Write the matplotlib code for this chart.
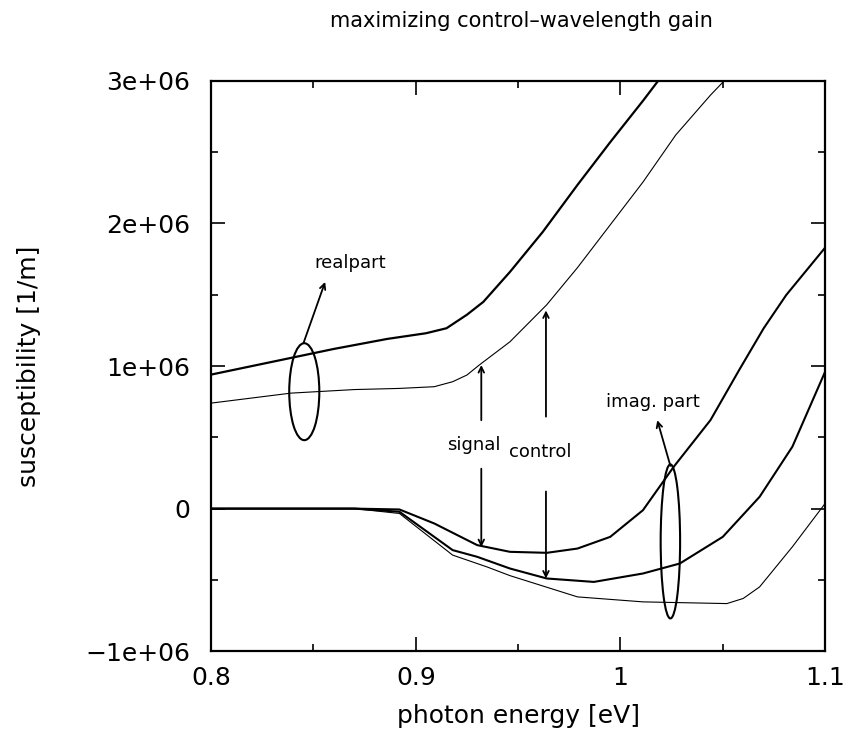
import matplotlib
matplotlib.use("Agg")
import matplotlib.pyplot as plt
from matplotlib.patches import Ellipse
from matplotlib.ticker import MultipleLocator

# photon energy [eV] / susceptibility in units of 1e6 1/m
real_thick_x = [0.800, 0.830, 0.860, 0.886, 0.905, 0.915, 0.925, 0.933, 0.946,
                0.962, 0.979, 0.995, 1.011, 1.020]
real_thick_y = [0.94, 1.03, 1.12, 1.19, 1.23, 1.265, 1.36, 1.45, 1.66,
                1.94, 2.27, 2.57, 2.86, 3.03]

real_thin_x = [0.800, 0.839, 0.870, 0.892, 0.909, 0.918, 0.925, 0.931, 0.946,
               0.964, 0.979, 0.995, 1.011, 1.027, 1.044, 1.052]
real_thin_y = [0.74, 0.81, 0.835, 0.843, 0.855, 0.89, 0.937, 1.007, 1.17,
               1.43, 1.69, 1.99, 2.29, 2.62, 2.90, 3.02]

imag_top_x = [0.800, 0.870, 0.892, 0.909, 0.930, 0.946, 0.964, 0.979, 0.995,
              1.011, 1.026, 1.044, 1.058, 1.070, 1.081, 1.100]
imag_top_y = [0.0, 0.0, -0.006, -0.104, -0.256, -0.303, -0.310, -0.28, -0.198,
              -0.011, 0.293, 0.621, 0.972, 1.265, 1.498, 1.83]

imag_mid_x = [0.800, 0.870, 0.892, 0.918, 0.930, 0.946, 0.964, 0.987, 1.011,
              1.029, 1.050, 1.068, 1.084, 1.100]
imag_mid_y = [0.0, 0.0, -0.022, -0.291, -0.338, -0.42, -0.49, -0.514, -0.455,
              -0.385, -0.198, 0.083, 0.434, 0.96]

imag_low_x = [0.800, 0.870, 0.892, 0.918, 0.935, 0.946, 0.979, 1.011, 1.052,
              1.060, 1.068, 1.084, 1.100]
imag_low_y = [0.0, 0.0, -0.034, -0.326, -0.41, -0.47, -0.619, -0.654, -0.666,
              -0.63, -0.549, -0.268, 0.036]

yticks = [-1, 0, 1, 2, 3]
ytick_labels = ["\u22121e+06", "0", "1e+06", "2e+06", "3e+06"]
xticks = [0.8, 0.9, 1.0, 1.1]
xtick_labels = ["0.8", "0.9", "1", "1.1"]

fig = plt.figure(figsize=(8.48, 7.35), dpi=100)
ax = fig.add_axes([0.249, 0.114, 0.724, 0.776])

ax.plot(real_thick_x, real_thick_y, color="black", lw=1.6)
ax.plot(real_thin_x, real_thin_y, color="black", lw=0.8)
ax.plot(imag_top_x, imag_top_y, color="black", lw=1.5)
ax.plot(imag_mid_x, imag_mid_y, color="black", lw=1.5)
ax.plot(imag_low_x, imag_low_y, color="black", lw=0.8)

# annotations: ellipses marking real / imaginary parts
ax.add_patch(Ellipse((0.8455, 0.82), 0.0147, 0.68, fill=False, lw=1.5, color="black"))
ax.add_patch(Ellipse((1.0244, -0.23), 0.0095, 1.08, fill=False, lw=1.5, color="black"))
arr = dict(arrowstyle="->", lw=1.3, color="black", shrinkA=0, shrinkB=0)
ax.annotate("", xy=(0.8557, 1.59), xytext=(0.8451, 1.16), arrowprops=arr)
ax.text(0.868, 1.72, "realpart", ha="center", va="center", fontsize=13)
ax.annotate("", xy=(1.018, 0.62), xytext=(1.0244, 0.30), arrowprops=arr)
ax.text(1.016, 0.75, "imag. part", ha="center", va="center", fontsize=13)

# signal / control wavelength markers
ax.annotate("", xy=(0.932, 1.007), xytext=(0.932, 0.62), arrowprops=arr)
ax.annotate("", xy=(0.932, -0.27), xytext=(0.932, 0.28), arrowprops=arr)
ax.annotate("", xy=(0.9636, 1.39), xytext=(0.9636, 0.645), arrowprops=arr)
ax.annotate("", xy=(0.9636, -0.49), xytext=(0.9636, 0.12), arrowprops=arr)
ax.text(0.9285, 0.446, "signal", ha="center", va="center", fontsize=13)
ax.text(0.961, 0.399, "control", ha="center", va="center", fontsize=13)

ax.set_xlim(0.8, 1.1)
ax.set_ylim(-1, 3)
ax.set_xticks(xticks)
ax.set_xticklabels(xtick_labels)
ax.set_yticks(yticks)
ax.set_yticklabels(ytick_labels)
ax.xaxis.set_minor_locator(MultipleLocator(0.05))
ax.yaxis.set_minor_locator(MultipleLocator(0.5))
ax.tick_params(which="both", direction="in", top=True, right=True,
               labelsize=18, width=1.2)
ax.tick_params(axis="y", which="major", pad=15)
ax.tick_params(axis="x", which="major", pad=11)
ax.tick_params(which="major", length=10)
ax.tick_params(which="minor", length=5)
for sp in ax.spines.values():
    sp.set_linewidth(1.6)

ax.set_xlabel("photon energy [eV]", fontsize=18)
ax.set_ylabel("susceptibility [1/m]", fontsize=18)
ax.xaxis.set_label_coords(0.5, -0.093)
ax.yaxis.set_label_coords(-0.277, 0.5)
ax.set_title("maximizing control\u2013wavelength gain", fontsize=15, x=0.506, y=1.08)

fig.savefig("out.png", dpi=100)
